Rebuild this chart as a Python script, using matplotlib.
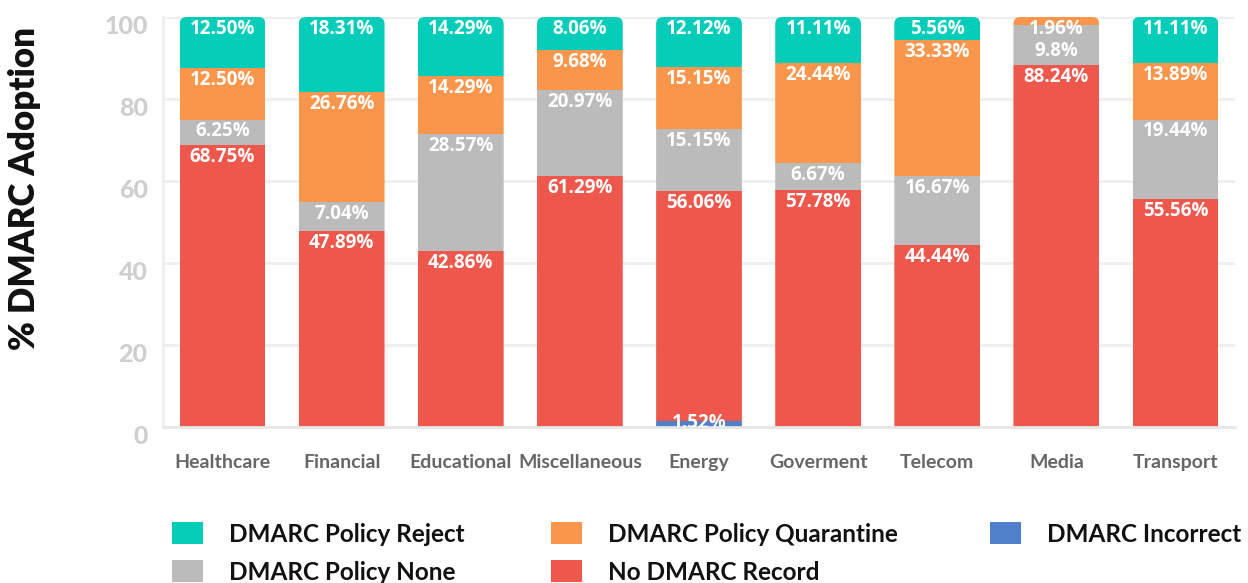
import matplotlib
matplotlib.use("Agg")
import matplotlib.pyplot as plt
from matplotlib.patches import FancyBboxPatch, Rectangle
from matplotlib.transforms import ScaledTranslation

# Sector breakdown of DMARC adoption (percent of domains per sector)
categories = ["Healthcare", "Financial", "Educational", "Miscellaneous", "Energy",
              "Goverment", "Telecom", "Media", "Transport"]
incorrect = ["0", "0", "0", "0", "1.52", "0", "0", "0", "0"]
no_record = ["68.75", "47.89", "42.86", "61.29", "56.06", "57.78", "44.44", "88.24", "55.56"]
policy_none = ["6.25", "7.04", "28.57", "20.97", "15.15", "6.67", "16.67", "9.8", "19.44"]
quarantine = ["12.50", "26.76", "14.29", "9.68", "15.15", "24.44", "33.33", "1.96", "13.89"]
reject = ["12.50", "18.31", "14.29", "8.06", "12.12", "11.11", "5.56", "0", "11.11"]
y_ticks = [0, 20, 40, 60, 80, 100]

series = [
    ("DMARC Incorrect", incorrect, "#4F80C9"),
    ("No DMARC Record", no_record, "#EE574B"),
    ("DMARC Policy None", policy_none, "#BBBBBB"),
    ("DMARC Policy Quarantine", quarantine, "#F9964C"),
    ("DMARC Policy Reject", reject, "#05CDBA"),
]

W, H, DPI = 1248, 583, 100
fig = plt.figure(figsize=(W / DPI, H / DPI), dpi=DPI)
ax_l, ax_r, ax_t, ax_b = 163, 1235, 17, 427
ax = fig.add_axes([ax_l / W, 1 - ax_b / H, (ax_r - ax_l) / W, (ax_b - ax_t) / H])

n = len(categories)
ax.set_xlim(-0.5, n - 0.5)
ax.set_ylim(0, 100)
px_x = (ax_r - ax_l) / n          # pixels per x unit
px_y = (ax_b - ax_t) / 100.0      # pixels per y unit

bar_w = 0.72
radius_px = 7
r_x = radius_px / px_x
aspect = (radius_px / px_y) / r_x

label_font = dict(family="Open Sans", weight="bold", size=13.5, color="white")

for i in range(n):
    vals = [float(s[1][i]) for s in series]
    total = sum(vals)
    clip = FancyBboxPatch((i - bar_w / 2, -10), bar_w, total + 10,
                          boxstyle=f"round,pad=0,rounding_size={r_x}",
                          mutation_aspect=aspect, transform=ax.transData)
    bottom = 0.0
    tops = []
    for (name, data, color), v in zip(series, vals):
        if v <= 0:
            continue
        r = Rectangle((i - bar_w / 2, bottom), bar_w, v, facecolor=color,
                      edgecolor="none", zorder=2)
        ax.add_patch(r)
        r.set_clip_path(clip)
        bottom += v
        tops.append((bottom, data[i]))
    # value labels, from the top segment downward, kept from overlapping
    prev_center = None
    for top, txt in reversed(tops):
        center = top - 12 / px_y
        if prev_center is not None and center > prev_center - 22 / px_y:
            center = prev_center - 22 / px_y
        center = max(center, 4.5 / px_y)
        prev_center = center
        ax.text(i, center, f"{txt}%", ha="center", va="center", zorder=4,
                clip_on=True, **label_font)

# axes styling
ax.set_yticks(y_ticks)
ax.set_yticklabels([str(t) for t in y_ticks], family="Lato", weight="black",
                   size=18, color="#CFCFCF")
ax.tick_params(axis="y", length=0, pad=11)
offset = ScaledTranslation(0, -8 / DPI, fig.dpi_scale_trans)
for lab in ax.get_yticklabels():
    lab.set_transform(lab.get_transform() + offset)

ax.set_xticks(range(n))
ax.set_xticklabels(categories, family="Lato", weight="bold", size=14, color="#666666")
ax.tick_params(axis="x", length=0, pad=19.5)

ax.grid(axis="y", color="#EEEEEE", linewidth=2, zorder=0)
ax.set_axisbelow(True)
for side in ["top", "right"]:
    ax.spines[side].set_visible(False)
ax.spines["left"].set_color("#EEEEEE")
ax.spines["left"].set_linewidth(2)
ax.spines["bottom"].set_color("#E6E6E6")
ax.spines["bottom"].set_linewidth(2)

fig.text(25 / W, 1 - 188 / H, "% DMARC Adoption", rotation=90, ha="center",
         va="center", family="Lato", weight="heavy", size=25, color="#111111")

# legend, laid out in figure pixels
legend_items = [
    ("DMARC Policy Reject", "#05CDBA", 172, 533),
    ("DMARC Policy Quarantine", "#F9964C", 551, 533),
    ("DMARC Incorrect", "#4F80C9", 990, 533),
    ("DMARC Policy None", "#BBBBBB", 172, 571),
    ("No DMARC Record", "#EE574B", 551, 571),
]
for text, color, x0, yc in legend_items:
    fig.patches.append(Rectangle((x0 / W, 1 - (yc + 11) / H), 31 / W, 22 / H,
                                 facecolor=color, edgecolor="none",
                                 transform=fig.transFigure, figure=fig))
    fig.text((x0 + 57) / W, 1 - (yc + 2) / H, text, ha="left", va="center",
             family="Lato", weight="bold", size=17.5, color="#111111")

fig.savefig("out.png", dpi=DPI)
